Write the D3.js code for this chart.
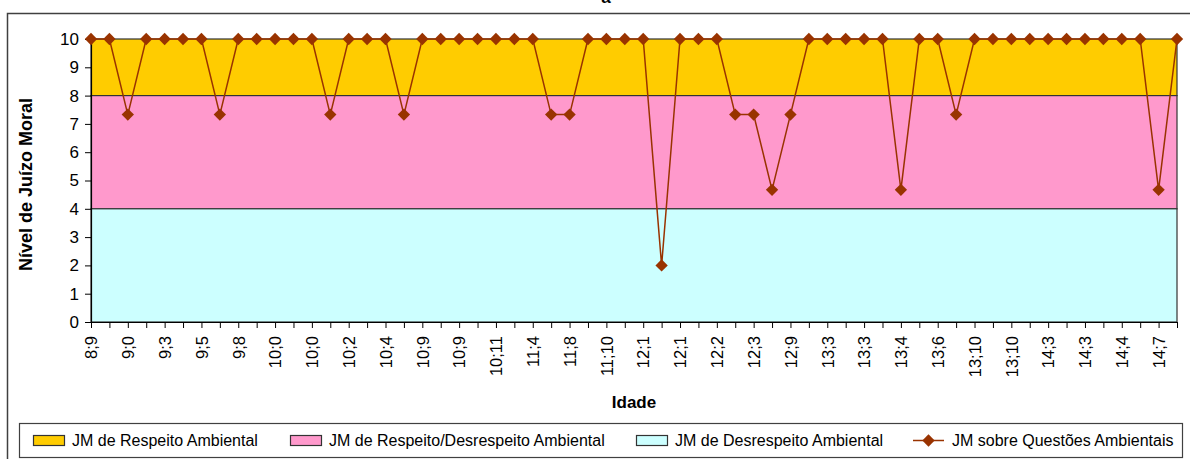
<!DOCTYPE html>
<html>
<head>
<meta charset="utf-8">
<script src="https://cdn.jsdelivr.net/npm/d3@7"></script>
<style>
  body { margin: 0; background: #fff; }
  svg { display: block; font-family: "Liberation Sans", Arial, sans-serif; }
</style>
</head>
<body>
<div id="chart"></div>
<script>
// ages (Idade) of each participant, only every other label is shown on the axis
const ages = [
  "8;9", "8;10", "9;0", "9;2", "9;3", "9;4", "9;5", "9;7", "9;8", "9;10",
  "10;0", "10;0", "10;0", "10;1", "10;2", "10;3", "10;4", "10;7", "10;9", "10;9",
  "10;9", "10;10", "10;11", "11;2", "11;4", "11;6", "11;8", "11;9", "11;10", "12;0",
  "12;1", "12;1", "12;1", "12;2", "12;2", "12;3", "12;3", "12;6", "12;9", "13;1",
  "13;3", "13;3", "13;3", "13;3", "13;4", "13;5", "13;6", "13;8", "13;10", "13;10",
  "13;10", "14;0", "14;3", "14;3", "14;3", "14;4", "14;4", "14;6", "14;7", "14;9"
];

// JM sobre Questões Ambientais
const jmValues = [
  10, 10, 7.33, 10, 10, 10, 10, 7.33, 10, 10,
  10, 10, 10, 7.33, 10, 10, 10, 7.33, 10, 10,
  10, 10, 10, 10, 10, 7.33, 7.33, 10, 10, 10,
  10, 2, 10, 10, 10, 7.33, 7.33, 4.67, 7.33, 10,
  10, 10, 10, 10, 4.67, 10, 10, 7.33, 10, 10,
  10, 10, 10, 10, 10, 10, 10, 10, 4.67, 10
];

// background bands
const bandNames = [
  "JM de Respeito Ambiental",
  "JM de Respeito/Desrespeito Ambiental",
  "JM de Desrespeito Ambiental"
];
const bandLower = [8, 4, 0];
const bandUpper = [10, 8, 4];
const bandColors = ["#FFCC00", "#FF99CC", "#CCFFFF"];

const lineName = "JM sobre Questões Ambientais";
const lineColor = "#993300";

const width = 1190;
const height = 459;
const plot = { left: 91, right: 1177, top: 39, bottom: 322 };

const svg = d3
  .select("#chart")
  .append("svg")
  .attr("width", width)
  .attr("height", height);

// outer chart border (runs past the right and bottom edge)
svg
  .append("rect")
  .attr("x", 7.5)
  .attr("y", 13.5)
  .attr("width", 1200)
  .attr("height", 470)
  .attr("fill", "none")
  .attr("stroke", "#404040")
  .attr("stroke-width", 1.5);

// title is cut off at the top, only the foot of it shows
svg
  .append("text")
  .attr("x", 606)
  .attr("y", 3)
  .attr("text-anchor", "middle")
  .attr("font-size", 17)
  .attr("font-weight", "bold")
  .text("a");

const x = d3
  .scalePoint()
  .domain(d3.range(ages.length))
  .range([plot.left, plot.right]);

const y = d3.scaleLinear().domain([0, 10]).range([plot.bottom, plot.top]);

// bands
svg
  .selectAll("rect.band")
  .data(bandNames)
  .enter()
  .append("rect")
  .attr("class", "band")
  .attr("x", plot.left)
  .attr("width", plot.right - plot.left)
  .attr("y", (d, i) => y(bandUpper[i]))
  .attr("height", (d, i) => y(bandLower[i]) - y(bandUpper[i]))
  .attr("fill", (d, i) => bandColors[i])
  .attr("stroke", "#333")
  .attr("stroke-width", 1.2);

// y axis
const yAxis = svg
  .append("g")
  .attr("transform", `translate(${plot.left},0)`)
  .call(d3.axisLeft(y).ticks(10).tickSize(6).tickPadding(6).tickSizeOuter(0));
yAxis.select(".domain").attr("stroke", "#000").attr("stroke-width", 1.2);
yAxis.selectAll(".tick line").attr("stroke", "#000");
yAxis
  .selectAll(".tick text")
  .attr("font-size", 17)
  .attr("font-family", "Liberation Sans, Arial, sans-serif")
  .attr("fill", "#000");

// x axis
const xAxis = svg
  .append("g")
  .attr("transform", `translate(0,${plot.bottom})`)
  .call(
    d3
      .axisBottom(x)
      .tickSize(6)
      .tickSizeOuter(0)
      .tickFormat((i) => (i % 2 === 0 ? ages[i] : ""))
  );
xAxis.select(".domain").attr("stroke", "#000").attr("stroke-width", 1.2);
xAxis.selectAll(".tick line").attr("stroke", "#000");
xAxis
  .selectAll(".tick text")
  .attr("font-size", 16.5)
  .attr("font-family", "Liberation Sans, Arial, sans-serif")
  .attr("fill", "#000")
  .attr("text-anchor", "end")
  .attr("transform", "rotate(-90)")
  .attr("x", -14)
  .attr("y", 0)
  .attr("dy", "0.35em");

// axis titles
svg
  .append("text")
  .attr("x", (plot.left + plot.right) / 2)
  .attr("y", 408)
  .attr("text-anchor", "middle")
  .attr("font-size", 17)
  .attr("font-weight", "bold")
  .text("Idade");

svg
  .append("text")
  .attr("transform", `translate(32,${(plot.top + plot.bottom) / 2 + 4}) rotate(-90)`)
  .attr("text-anchor", "middle")
  .attr("font-size", 18)
  .attr("font-weight", "bold")
  .text("Nível de Juízo Moral");

// line + diamond markers
const line = d3
  .line()
  .x((d, i) => x(i))
  .y((d) => y(d));

svg
  .append("path")
  .datum(jmValues)
  .attr("d", line)
  .attr("fill", "none")
  .attr("stroke", lineColor)
  .attr("stroke-width", 1.5);

const diamond = d3.symbol().type(d3.symbolSquare).size(76);

svg
  .selectAll("path.marker")
  .data(jmValues)
  .enter()
  .append("path")
  .attr("class", "marker")
  .attr("d", diamond)
  .attr("transform", (d, i) => `translate(${x(i)},${y(d)}) rotate(45)`)
  .attr("fill", lineColor);

// Legend
const legend = svg.append("g");
legend
  .append("rect")
  .attr("x", 19.5)
  .attr("y", 423.5)
  .attr("width", 1163)
  .attr("height", 34)
  .attr("fill", "#fff")
  .attr("stroke", "#404040")
  .attr("stroke-width", 1.2);

const legendX = [33, 290, 636, 913];
const legendY = 440;

const bandItem = legend
  .selectAll("g.band-item")
  .data(bandNames)
  .enter()
  .append("g")
  .attr("class", "band-item")
  .attr("transform", (d, i) => `translate(${legendX[i]},${legendY})`);

bandItem
  .append("rect")
  .attr("x", 0.5)
  .attr("y", -4.5)
  .attr("width", 31)
  .attr("height", 10)
  .attr("fill", (d, i) => bandColors[i])
  .attr("stroke", "#333")
  .attr("stroke-width", 1.2);

bandItem
  .append("text")
  .attr("x", 39)
  .attr("y", 6)
  .attr("font-size", 16)
  .text((d) => d);

const lineItem = legend
  .append("g")
  .attr("transform", `translate(${legendX[3]},${legendY})`);

lineItem
  .append("line")
  .attr("x1", 0)
  .attr("x2", 31)
  .attr("y1", 0.5)
  .attr("y2", 0.5)
  .attr("stroke", lineColor)
  .attr("stroke-width", 1.5);

lineItem
  .append("path")
  .attr("d", diamond)
  .attr("transform", "translate(15.5,0.5) rotate(45)")
  .attr("fill", lineColor);

lineItem
  .append("text")
  .attr("x", 39)
  .attr("y", 6)
  .attr("font-size", 16)
  .text(lineName);
</script>
</body>
</html>
